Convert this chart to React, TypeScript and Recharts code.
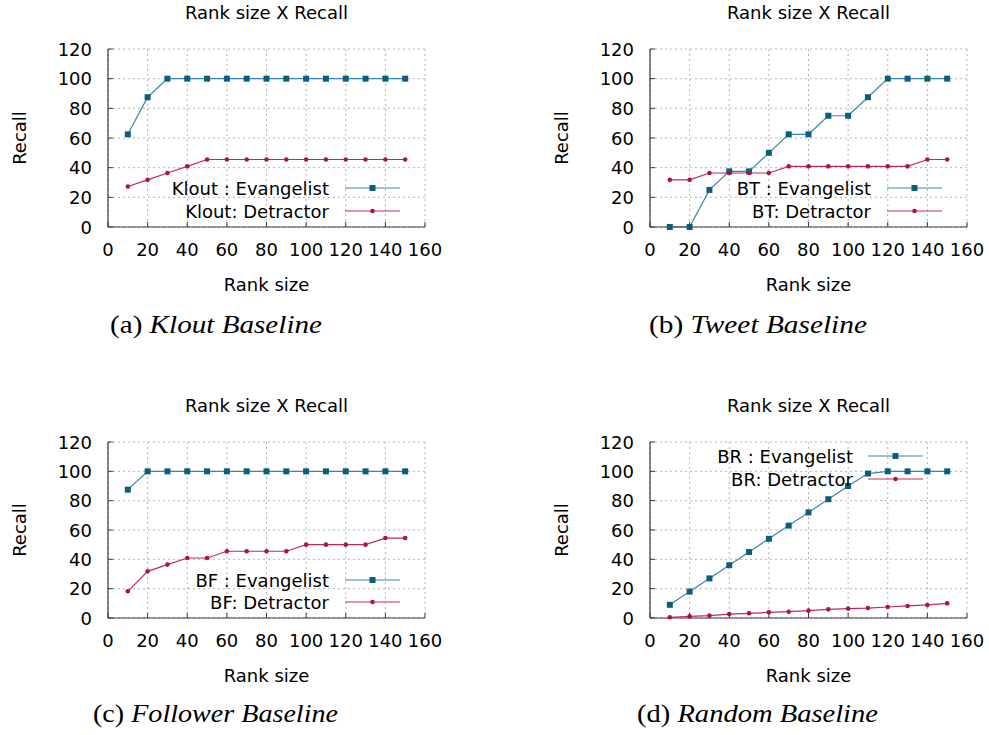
import React from 'react';
import { LineChart, Line, XAxis, YAxis, CartesianGrid, Legend } from 'recharts';

// ---------- data ----------
const rankSizes = [10, 20, 30, 40, 50, 60, 70, 80, 90, 100, 110, 120, 130, 140, 150];

const kloutEvangelist = [62.5, 87.5, 100, 100, 100, 100, 100, 100, 100, 100, 100, 100, 100, 100, 100];
const kloutDetractor = [27.3, 31.8, 36.4, 40.9, 45.5, 45.5, 45.5, 45.5, 45.5, 45.5, 45.5, 45.5, 45.5, 45.5, 45.5];

const tweetEvangelist = [0, 0, 25, 37.5, 37.5, 50, 62.5, 62.5, 75, 75, 87.5, 100, 100, 100, 100];
const tweetDetractor = [31.8, 31.8, 36.4, 36.4, 36.4, 36.4, 40.9, 40.9, 40.9, 40.9, 40.9, 40.9, 40.9, 45.5, 45.5];

const followerEvangelist = [87.5, 100, 100, 100, 100, 100, 100, 100, 100, 100, 100, 100, 100, 100, 100];
const followerDetractor = [18.2, 31.8, 36.4, 40.9, 40.9, 45.5, 45.5, 45.5, 45.5, 50, 50, 50, 50, 54.5, 54.5];

const randomEvangelist = [9, 18, 27, 36, 45, 54, 63, 72, 81, 90, 98.5, 100, 100, 100, 100];
const randomDetractor = [0.5, 1.1, 1.6, 2.7, 3.2, 3.9, 4.3, 5, 5.9, 6.4, 6.8, 7.5, 8.2, 8.9, 10];

const xTicks = [0, 20, 40, 60, 80, 100, 120, 140, 160];
const yTicks = [0, 20, 40, 60, 80, 100, 120];

const chartTitle = 'Rank size X Recall';
const xAxisTitle = 'Rank size';
const yAxisTitle = 'Recall';

const legendNames = {
  klout: ['Klout : Evangelist', 'Klout: Detractor'],
  tweet: ['BT : Evangelist', 'BT: Detractor'],
  follower: ['BF : Evangelist', 'BF: Detractor'],
  random: ['BR : Evangelist', 'BR: Detractor'],
};

const captionLabels = ['(a)', '(b)', '(c)', '(d)'];
const captionNames = ['Klout Baseline', 'Tweet Baseline', 'Follower Baseline', 'Random Baseline'];

// ---------- styles ----------
const FONT = '"DejaVu Sans", Verdana, sans-serif';
const SERIF = '"Liberation Serif", "Times New Roman", serif';
const AXIS = '#3a3a3a';
const GRID = '#b4b4b4';
const EV_LINE = '#3a88a8';
const EV_DOT = '#0a5f7c';
const DE_LINE = '#bd2e55';
const DE_DOT = '#b0143c';
const FS = 18;

const PL = 108; // plot left inside chart
const PT = 49; // plot top inside chart
const PW = 317;
const YW = 60;
const XH = 30;
const MR = 20;
const MB = 45;

const buildRows = (ev: number[], de: number[]) =>
  rankSizes.map((r, i) => ({ rank: r, evangelist: ev[i], detractor: de[i] }));

type PanelCfg = {
  left: number;
  top: number;
  h: number;
  names: string[];
  ev: number[];
  de: number[];
  lg: { textRight: number; lineStart: number; lineEnd: number; row1: number; row2: number };
};

const stdLegend = { textRight: 221, lineStart: 237, lineEnd: 292, row1: 139, row2: 162 };

const panels: PanelCfg[] = [
  { left: 108, top: 49, h: 178, names: legendNames.klout, ev: kloutEvangelist, de: kloutDetractor, lg: stdLegend },
  { left: 650, top: 49, h: 178, names: legendNames.tweet, ev: tweetEvangelist, de: tweetDetractor, lg: stdLegend },
  {
    left: 108, top: 442, h: 176, names: legendNames.follower, ev: followerEvangelist, de: followerDetractor,
    lg: { textRight: 221, lineStart: 237, lineEnd: 292, row1: 138, row2: 160 },
  },
  {
    left: 650, top: 442, h: 176, names: legendNames.random, ev: randomEvangelist, de: randomDetractor,
    lg: { textRight: 203, lineStart: 218, lineEnd: 273, row1: 14, row2: 37 },
  },
];

const captions = [
  { x: 110, y: 333, len: 212 },
  { x: 649, y: 333, len: 218 },
  { x: 93, y: 722, len: 245 },
  { x: 637, y: 722, len: 241 },
];

// ---------- ticks ----------
const BottomTick = (p: any) => (
  <g>
    <line x1={p.x} y1={p.y} x2={p.x} y2={p.y - 5} stroke={AXIS} strokeWidth={1} />
    <text x={p.x} y={p.y + 29} textAnchor="middle" fontFamily={FONT} fontSize={FS} fill="#000">
      {p.payload.value}
    </text>
  </g>
);
const TopTick = (p: any) => (
  <line x1={p.x} y1={p.y} x2={p.x} y2={p.y + 5} stroke={AXIS} strokeWidth={1} />
);
const LeftTick = (p: any) => (
  <g>
    <line x1={p.x} y1={p.y} x2={p.x + 5} y2={p.y} stroke={AXIS} strokeWidth={1} />
    <text x={p.x - 16} y={p.y + 6.5} textAnchor="end" fontFamily={FONT} fontSize={FS} fill="#000">
      {p.payload.value}
    </text>
  </g>
);
const RightTick = (p: any) => (
  <line x1={p.x} y1={p.y} x2={p.x - 5} y2={p.y} stroke={AXIS} strokeWidth={1} />
);

const SquareDot = (p: any) => {
  if (p.cx == null || p.cy == null) return <g />;
  return <rect x={p.cx - 3} y={p.cy - 3} width={6} height={6} fill={EV_DOT} />;
};
const RoundDot = (p: any) => {
  if (p.cx == null || p.cy == null) return <g />;
  return <circle cx={p.cx} cy={p.cy} r={2.3} fill={DE_DOT} />;
};

const Panel = ({ cfg }: { cfg: PanelCfg }) => {
  const data = buildRows(cfg.ev, cfg.de);
  const W = PL + PW + MR;
  const H = PT + cfg.h + XH + MB;
  const lg = cfg.lg;

  const legendContent = (props: any) => {
    const payload = (props && props.payload) || [];
    const rows = [lg.row1, lg.row2];
    return (
      <svg width={W} height={H} style={{ position: 'absolute', left: 0, top: 0, overflow: 'visible' }}>
        {payload.map((entry: any, i: number) => {
          const y = PT + rows[i];
          const color = i === 0 ? EV_LINE : DE_LINE;
          const mid = PL + (lg.lineStart + lg.lineEnd) / 2;
          return (
            <g key={i}>
              <text x={PL + lg.textRight} y={y + 6.5} textAnchor="end" fontFamily={FONT} fontSize={FS} fill="#000">
                {entry.value}
              </text>
              <line x1={PL + lg.lineStart} y1={y} x2={PL + lg.lineEnd} y2={y} stroke={color} strokeWidth={1.2} />
              {i === 0 ? (
                <rect x={mid - 3} y={y - 3} width={6} height={6} fill={EV_DOT} />
              ) : (
                <circle cx={mid} cy={y} r={2.3} fill={DE_DOT} />
              )}
            </g>
          );
        })}
      </svg>
    );
  };

  return (
    <div style={{ position: 'absolute', left: cfg.left - PL, top: cfg.top - PT, width: W, height: H }}>
      <LineChart width={W} height={H} data={data} margin={{ top: PT, left: PL - YW, right: MR, bottom: MB }}>
        <CartesianGrid stroke={GRID} strokeDasharray="2 3" />
        <XAxis
          dataKey="rank"
          type="number"
          domain={[0, 160]}
          ticks={xTicks}
          interval={0}
          height={XH}
          tickSize={0}
          tickMargin={0}
          tick={<BottomTick />}
          axisLine={{ stroke: AXIS, strokeWidth: 1.2 }}
          tickLine={false}
          label={() => (
            <g>
              <text x={PL + PW / 2} y={PT + cfg.h + 63.5} textAnchor="middle" fontFamily={FONT} fontSize={FS} fill="#000">
                {xAxisTitle}
              </text>
              <text x={PL + PW / 2} y={PT - 30} textAnchor="middle" fontFamily={FONT} fontSize={FS} fill="#000">
                {chartTitle}
              </text>
            </g>
          )}
        />
        <XAxis
          xAxisId="top"
          orientation="top"
          dataKey="rank"
          type="number"
          domain={[0, 160]}
          ticks={xTicks}
          interval={0}
          height={0}
          tickSize={0}
          tickMargin={0}
          tick={<TopTick />}
          axisLine={{ stroke: AXIS, strokeWidth: 1.2 }}
          tickLine={false}
        />
        <YAxis
          type="number"
          domain={[0, 120]}
          ticks={yTicks}
          interval={0}
          width={YW}
          tickSize={0}
          tickMargin={0}
          tick={<LeftTick />}
          axisLine={{ stroke: AXIS, strokeWidth: 1.2 }}
          tickLine={false}
          label={() => (
            <text
              x={PL - 89}
              y={PT + cfg.h / 2}
              transform={`rotate(-90, ${PL - 89}, ${PT + cfg.h / 2})`}
              textAnchor="middle"
              dominantBaseline="central"
              fontFamily={FONT}
              fontSize={FS}
              fill="#000"
            >
              {yAxisTitle}
            </text>
          )}
        />
        <YAxis
          yAxisId="right"
          orientation="right"
          type="number"
          domain={[0, 120]}
          ticks={yTicks}
          interval={0}
          width={0}
          tickSize={0}
          tickMargin={0}
          tick={<RightTick />}
          axisLine={{ stroke: AXIS, strokeWidth: 1.2 }}
          tickLine={false}
        />
        <Legend
          layout="horizontal"
          verticalAlign="middle"
          align="center"
          content={legendContent}
          wrapperStyle={{ position: 'absolute', left: 0, top: 0, width: W, height: H, margin: 0, padding: 0, pointerEvents: 'none' }}
        />
        <Line
          type="linear"
          dataKey="evangelist"
          name={cfg.names[0]}
          stroke={EV_LINE}
          strokeWidth={1.2}
          dot={<SquareDot />}
          activeDot={false}
          isAnimationActive={false}
        />
        <Line
          type="linear"
          dataKey="detractor"
          name={cfg.names[1]}
          stroke={DE_LINE}
          strokeWidth={1.2}
          dot={<RoundDot />}
          activeDot={false}
          isAnimationActive={false}
        />
      </LineChart>
    </div>
  );
};

export default function App() {
  return (
    <div style={{ position: 'absolute', left: 0, top: 0, width: 989, height: 735, overflow: 'hidden', background: '#fff' }}>
      {panels.map((cfg, i) => (
        <Panel key={i} cfg={cfg} />
      ))}
      <svg width={989} height={735} style={{ position: 'absolute', left: 0, top: 0, pointerEvents: 'none' }}>
        {captions.map((c, i) => (
          <text
            key={i}
            x={c.x}
            y={c.y}
            fontFamily={SERIF}
            fontSize={26}
            fill="#000"
            textLength={c.len}
            lengthAdjust="spacingAndGlyphs"
          >
            <tspan>{captionLabels[i]} </tspan>
            <tspan fontStyle="italic">{captionNames[i]}</tspan>
          </text>
        ))}
      </svg>
    </div>
  );
}
